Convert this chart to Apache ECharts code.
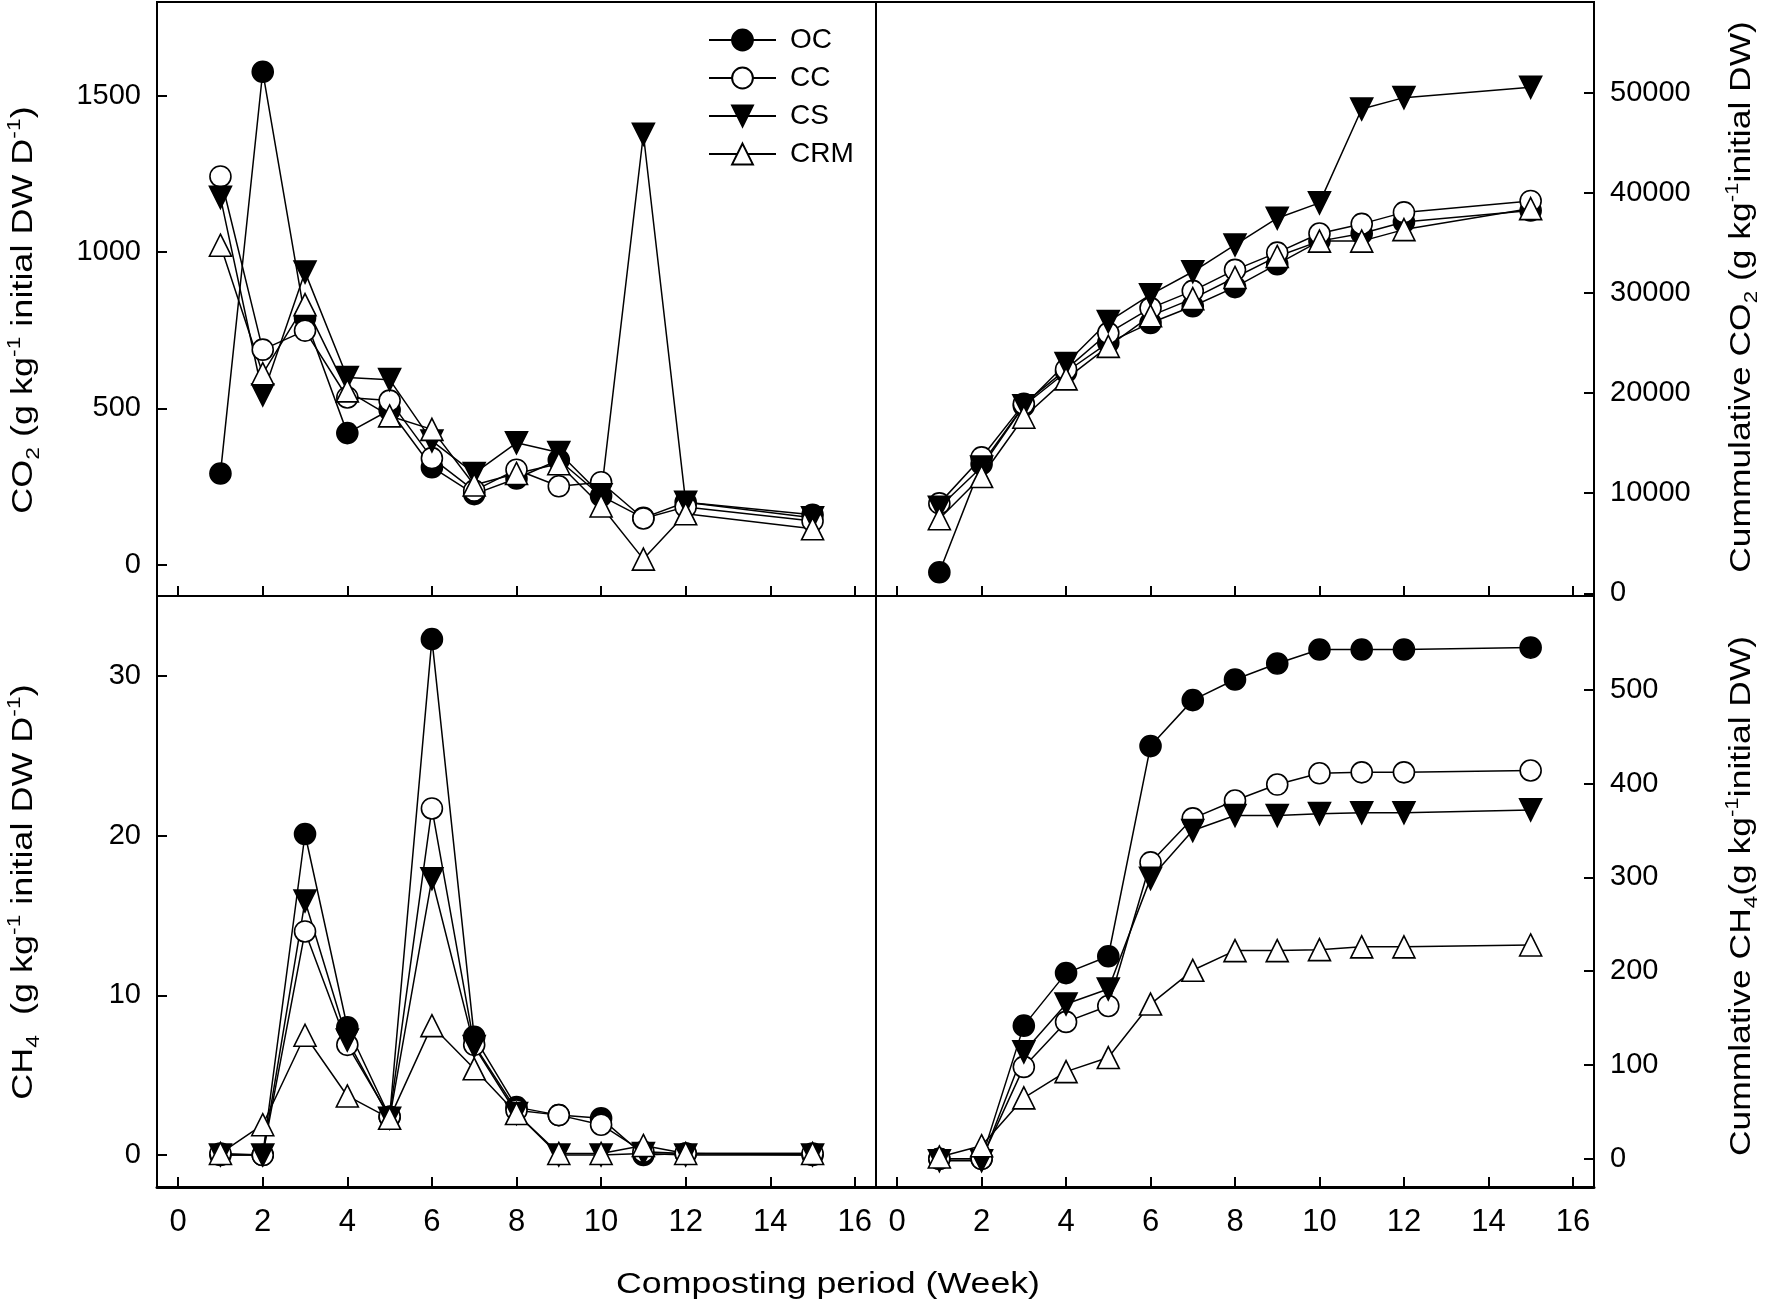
<!DOCTYPE html>
<html>
<head>
<meta charset="utf-8">
<script src="https://cdn.jsdelivr.net/npm/echarts@6/dist/echarts.min.js"></script>
<style>html,body{margin:0;padding:0;background:#fff}#c{width:1773px;height:1307px}</style>
</head>
<body>
<div id="c"></div>
<script>
var weeks = [1, 2, 3, 4, 5, 6, 7, 8, 9, 10, 11, 12, 15];
var seriesNames = ['OC', 'CC', 'CS', 'CRM'];

// CO2 emission rate (g kg-1 initial DW D-1)
var co2RateOC  = [292, 1577, 790, 421, 495, 312, 226, 276, 335, 220, 150, 200, 160];
var co2RateCC  = [1242, 688, 749, 535, 525, 341, 237, 304, 251, 264, 148, 185, 140];
var co2RateCS  = [1175, 543, 936, 599, 592, 396, 292, 390, 359, 224, 1377, 200, 150];
var co2RateCRM = [1022, 611, 832, 556, 476, 433, 255, 292, 323, 188, 18, 163, 115];

// Cumulative CO2 (g kg-1 initial DW)
var co2CumOC  = [2100, 12900, 18730, 22100, 25040, 27000, 28670, 30580, 32870, 35170, 35930, 37080, 38230];
var co2CumCC  = [8980, 13570, 18920, 22360, 25990, 28480, 30200, 32300, 34020, 35930, 36890, 38040, 39180];
var co2CumCS  = [8600, 12610, 18730, 22940, 27140, 29820, 32110, 34790, 37460, 38990, 48360, 49500, 50540];
var co2CumCRM = [7450, 11660, 17580, 21410, 24660, 27710, 29430, 31540, 33640, 35170, 35170, 36320, 38420];

// CH4 emission rate (g kg-1 initial DW D-1)
var ch4RateOC  = [0, 0, 20.1, 8.0, 2.4, 32.3, 7.4, 3.0, 2.5, 2.3, 0, 0.1, 0];
var ch4RateCC  = [0.1, 0, 14.0, 6.9, 2.4, 21.7, 6.9, 2.8, 2.5, 1.9, 0.2, 0.1, 0.1];
var ch4RateCS  = [0, 0, 15.9, 7.2, 2.3, 17.3, 6.8, 2.6, 0, 0, 0.1, 0, 0];
var ch4RateCRM = [0.1, 1.9, 7.5, 3.7, 2.3, 8.1, 5.4, 2.6, 0.1, 0.1, 0.6, 0.1, 0.1];

// Cumulative CH4 (g kg-1 initial DW)
var ch4CumOC  = [0, 0, 142, 198, 216, 440, 489, 511, 528, 543, 543, 543, 545];
var ch4CumCC  = [0, 0, 98, 146, 163, 316, 363, 382, 399, 411, 412, 412, 414];
var ch4CumCS  = [-2, -2, 114, 165, 181, 299, 350, 366, 366, 368, 369, 369, 372];
var ch4CumCRM = [2, 14, 65, 93, 108, 165, 201, 222, 222, 223, 226, 226, 228];

var xTicks = [0, 2, 4, 6, 8, 10, 12, 14, 16];
var yTicksCO2Rate = [0, 500, 1000, 1500];
var yTicksCO2Cum = [0, 10000, 20000, 30000, 40000, 50000];
var yTicksCH4Rate = [0, 10, 20, 30];
var yTicksCH4Cum = [0, 100, 200, 300, 400, 500];

var FONT = 'Liberation Sans, Arial, sans-serif';

var styles = {
  OC:  {symbol: 'circle', rotate: 0, fill: '#000', size: 21},
  CC:  {symbol: 'circle', rotate: 0, fill: '#fff', size: 21},
  CS:  {symbol: 'triangle', rotate: 180, fill: '#000', size: 22},
  CRM: {symbol: 'triangle', rotate: 0, fill: '#fff', size: 22}
};

function mk(name, vals, idx) {
  var st = styles[name];
  return {
    type: 'line', name: name, xAxisIndex: idx, yAxisIndex: idx,
    data: weeks.map(function (w, i) { return [w, vals[i]]; }),
    symbol: st.symbol, symbolRotate: st.rotate, symbolSize: st.size,
    lineStyle: {color: '#000', width: 1.5},
    itemStyle: {color: st.fill, borderColor: '#000', borderWidth: 1.6},
    emphasis: {disabled: true}, silent: true, clip: false, z: 3
  };
}

var grids = [
  {left: 157, top: 2, width: 719, height: 594},
  {left: 876, top: 2, width: 718, height: 594},
  {left: 157, top: 596, width: 719, height: 591},
  {left: 876, top: 596, width: 718, height: 591}
];
grids.forEach(function (g) { g.show = true; g.borderColor = '#000'; g.borderWidth = 2; g.backgroundColor = 'transparent'; });

function plain(v) { return String(v); }

function xAx(idx, bottom) {
  return {
    type: 'value', gridIndex: idx, min: -0.5, max: 16.5, position: 'bottom',
    axisLine: {show: bottom, onZero: false, lineStyle: {color: '#000', width: 3}},
    axisTick: {show: true, inside: true, length: 10, customValues: xTicks, lineStyle: {color: '#000', width: 2}},
    axisLabel: {show: bottom, customValues: xTicks, formatter: plain, fontSize: 31, fontFamily: FONT, color: '#000', margin: 20},
    splitLine: {show: false}
  };
}
function yAx(idx, pos, min, max, ticks) {
  return {
    type: 'value', gridIndex: idx, position: pos, min: min, max: max,
    axisLine: {show: false, onZero: false},
    axisTick: {show: true, inside: true, length: 10, customValues: ticks, lineStyle: {color: '#000', width: 2}},
    axisLabel: {show: true, customValues: ticks, formatter: plain, fontSize: 29, fontFamily: FONT, color: '#000', margin: 16},
    splitLine: {show: false}
  };
}

var baseRich = {
  n: {fontSize: 30, fontFamily: FONT, fill: '#000', color: '#000', lineHeight: 38, verticalAlign: 'middle'},
  sup: {fontSize: 19, fontFamily: FONT, fill: '#000', color: '#000', lineHeight: 19, verticalAlign: 'top'},
  sub: {fontSize: 19, fontFamily: FONT, fill: '#000', color: '#000', lineHeight: 19, verticalAlign: 'bottom'}
};

function title(x, y, txt, sx) {
  return {
    type: 'text', x: x, y: y, rotation: Math.PI / 2, scaleX: sx, scaleY: 1,
    style: {text: txt, rich: baseRich, align: 'center', verticalAlign: 'middle', fontSize: 30, fontFamily: FONT, fill: '#000'},
    silent: true
  };
}

var option = {
  animation: false,
  backgroundColor: '#fff',
  grid: grids,
  xAxis: [xAx(0, false), xAx(1, false), xAx(2, true), xAx(3, true)],
  yAxis: [
    yAx(0, 'left', -100, 1800, yTicksCO2Rate),
    yAx(1, 'right', -270, 59050, yTicksCO2Cum),
    yAx(2, 'left', -2, 35, yTicksCH4Rate),
    yAx(3, 'right', -30, 600, yTicksCH4Cum)
  ],
  legend: {
    data: seriesNames, orient: 'vertical', left: 708, top: 26, padding: 0,
    itemWidth: 67, itemHeight: 26, itemGap: 10,
    textStyle: {fontSize: 28, fontFamily: FONT, color: '#000', padding: [0, 0, 0, 9]},
    selectedMode: false
  },
  series: [
    mk('OC', co2RateOC, 0), mk('CC', co2RateCC, 0), mk('CS', co2RateCS, 0), mk('CRM', co2RateCRM, 0),
    mk('OC', co2CumOC, 1), mk('CC', co2CumCC, 1), mk('CS', co2CumCS, 1), mk('CRM', co2CumCRM, 1),
    mk('OC', ch4RateOC, 2), mk('CC', ch4RateCC, 2), mk('CS', ch4RateCS, 2), mk('CRM', ch4RateCRM, 2),
    mk('OC', ch4CumOC, 3), mk('CC', ch4CumCC, 3), mk('CS', ch4CumCS, 3), mk('CRM', ch4CumCRM, 3)
  ],
  graphic: [
    title(24, 310, '{n|CO}{sub|2}{n| (g kg}{sup|-1}{n| initial DW D}{sup|-1}{n|)}', 1.2),
    title(24, 892, '{n|CH}{sub|4}{n|  (g kg}{sup|-1}{n| initial DW D}{sup|-1}{n|)}', 1.2),
    title(1742, 297, '{n|Cummulative CO}{sub|2}{n| (g kg}{sup|-1}{n|initial DW)}', 1.18),
    title(1742, 896, '{n|Cummlative CH}{sub|4}{n|(g kg}{sup|-1}{n|initial DW)}', 1.18),
    {
      type: 'text', x: 828, y: 1285, scaleX: 1.19, scaleY: 1,
      style: {text: 'Composting period (Week)', align: 'center', verticalAlign: 'middle', fontSize: 30, fontFamily: FONT, fill: '#000'},
      silent: true
    }
  ]
};

var chart = echarts.init(document.getElementById('c'), null, {renderer: 'canvas'});
chart.setOption(option);
</script>
</body>
</html>
